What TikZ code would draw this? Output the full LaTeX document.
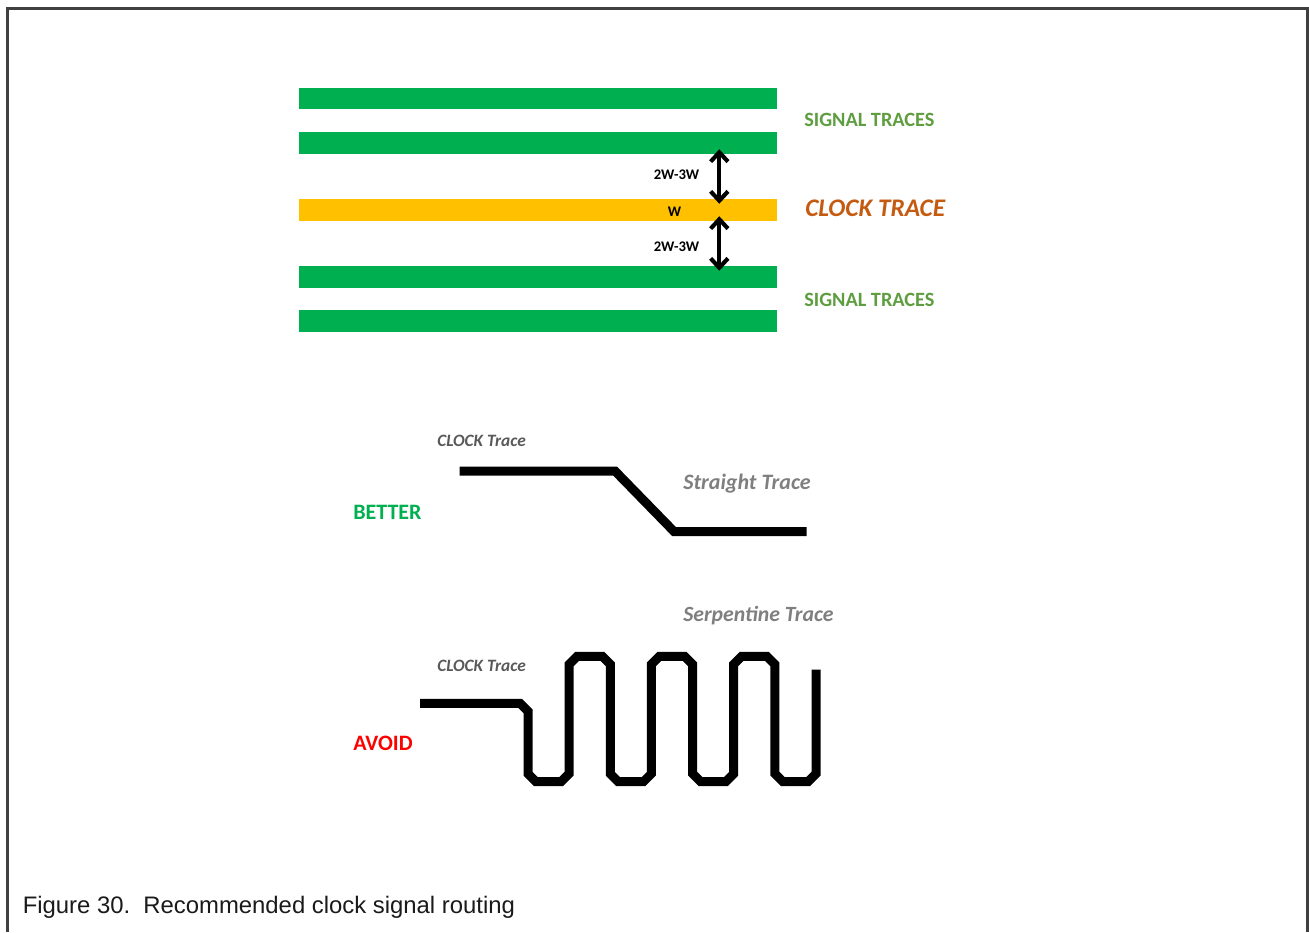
\documentclass[tikz,border=0pt]{standalone}
\usepackage{fontspec}
\setmainfont{Carlito}
\newfontfamily\capfont{Liberation Sans}
\usetikzlibrary{arrows.meta}
\definecolor{trgreen}{HTML}{00B050}
\definecolor{clkorange}{HTML}{FFC000}
\definecolor{siggreen}{HTML}{5E9E40}
\definecolor{clkbrown}{HTML}{C55A11}
\definecolor{lblgray}{HTML}{595959}
\definecolor{lblgrayb}{HTML}{7F7F7F}
\definecolor{framegray}{HTML}{404040}
\definecolor{avoidred}{HTML}{FF0000}
\definecolor{captxt}{HTML}{1A1A1A}
\begin{document}
\begin{tikzpicture}[x=0.75pt,y=-0.75pt,
  bar/.style={rectangle, inner sep=0, minimum width=358.5pt, minimum height=16pt},
  sigbar/.style={bar, fill=trgreen},
  clkbar/.style={bar, fill=clkorange},
  lbl/.style={inner sep=0, anchor=base west},
  dimarrow/.style={line width=3.1pt, {Straight Barb[length=7pt,width=13pt]}-{Straight Barb[length=7pt,width=13pt]}, shorten <=-3.5pt, shorten >=-3.5pt},
  trace/.style={line width=6.75pt, line join=miter, black},
  framestyle/.style={line width=2.25pt, framegray}]
\useasboundingbox (0,0) rectangle (1309,932);
% frame
\draw[framestyle] (7.5,932) -- (7.5,8.5) -- (1307.5,8.5) -- (1307.5,932);
% traces
\node[sigbar] (s1) at (537.5,98.8) {};
\node[sigbar] (s2) at (537.5,143) {};
\node[clkbar] (ck) at (537.5,210) {};
\node[sigbar] (s3) at (537.5,277) {};
\node[sigbar] (s4) at (537.5,321) {};
\coordinate (ax) at (719.3,0);
\draw[dimarrow] (s2.south -| ax) -- (ck.north -| ax);
\draw[dimarrow] (ck.south -| ax) -- (s3.north -| ax);
\node[lbl, font=\fontsize{11}{13}\selectfont\bfseries] (d1) at (653.5,179.3) {2W-3W};
\node[lbl, font=\fontsize{11}{13}\selectfont\bfseries] (d2) at (653.5,251) {2W-3W};
\node[lbl, font=\fontsize{11}{13}\selectfont\bfseries] (w) at (667.5,216) {W};
\node[lbl, font=\fontsize{15.2}{18}\selectfont\bfseries, text=siggreen] (sigA) at (804,126) {SIGNAL TRACES};
\node[lbl, font=\fontsize{19}{22}\selectfont\bfseries\itshape, text=clkbrown] (clk) at (805,216.7) {CLOCK TRACE};
\node[lbl, font=\fontsize{15.2}{18}\selectfont\bfseries, text=siggreen] (sigB) at (804,306.8) {SIGNAL TRACES};
% better
\node[lbl, font=\fontsize{13}{15}\selectfont\bfseries\itshape, text=lblgray] (ct1) at (437,446) {CLOCK Trace};
\node[lbl, font=\fontsize{16.5}{19}\selectfont\bfseries\itshape, text=lblgrayb] (st) at (683,489.3) {Straight Trace};
\node[lbl, font=\fontsize{16.5}{19}\selectfont\bfseries, text=trgreen] (better) at (353,519) {BETTER};
\draw[trace] (459.5,471) -- (615,471) -- (674,531.5) -- (806.5,531.5);
% avoid
\node[lbl, font=\fontsize{16.3}{19}\selectfont\bfseries\itshape, text=lblgrayb] (sp) at (683,621) {Serpentine Trace};
\node[lbl, font=\fontsize{13}{15}\selectfont\bfseries\itshape, text=lblgray] (ct2) at (437,671.7) {CLOCK Trace};
\node[lbl, font=\fontsize{16.5}{19}\selectfont\bfseries, text=avoidred] (avoid) at (353,750) {AVOID};
\draw[trace] (420,703.3) -- (520,703.3) -- (528,711.3) -- (528,773.7) -- (536,781.7) -- (561.1,781.7) -- (569.1,773.7)
  -- (569.1,664.3) -- (577.1,656.3) -- (602.3,656.3) -- (610.3,664.3) -- (610.3,773.7) -- (618.3,781.7) -- (643.4,781.7) -- (651.4,773.7)
  -- (651.4,664.3) -- (659.4,656.3) -- (684.6,656.3) -- (692.6,664.3) -- (692.6,773.7) -- (700.6,781.7) -- (725.7,781.7) -- (733.7,773.7)
  -- (733.7,664.3) -- (741.7,656.3) -- (766.9,656.3) -- (774.9,664.3) -- (774.9,773.7) -- (782.9,781.7) -- (808,781.7) -- (816,773.7)
  -- (816,669.5);
% caption
\node[lbl, font=\capfont\fontsize{17.9}{21}\selectfont, text=captxt] (cap) at (22.5,913.3) {Figure 30.\ \ Recommended clock signal routing};
\end{tikzpicture}
\end{document}
